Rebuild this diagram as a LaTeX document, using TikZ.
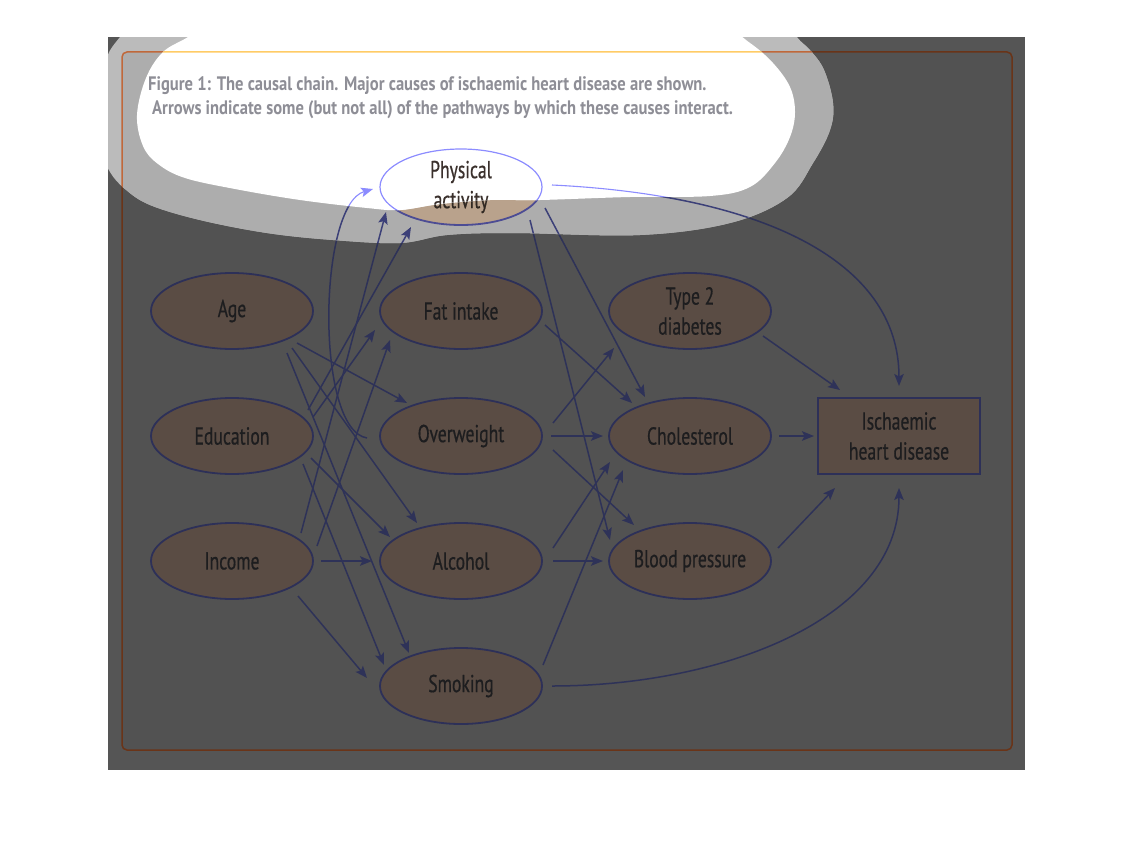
\documentclass[tikz,border=0pt]{standalone}
\usepackage{fontspec}
\setmainfont{PT Sans}[FakeStretch=0.72]
\newfontfamily\nodefam{PT Sans}[FakeStretch=0.72,FakeBold=0.6]
\newfontfamily\captfam{PT Sans}[FakeStretch=0.85]
\usetikzlibrary{arrows.meta,calc,shapes.geometric}

\definecolor{outbg}{HTML}{555555}
\definecolor{inbg}{HTML}{525252}
\definecolor{halout}{HTML}{BBBBBB}
\definecolor{haloin}{HTML}{ADADAD}
\definecolor{dkfill}{HTML}{5A4C44}
\definecolor{dkline}{HTML}{2D3058}
\definecolor{dkarr}{HTML}{2E3258}
\definecolor{dktext}{HTML}{1D1D1F}
\definecolor{dkframe}{HTML}{6A3418}
\definecolor{hafill}{HTML}{B9A28C}
\definecolor{haline}{HTML}{4C4C94}
\definecolor{haarr}{HTML}{3C4078}
\definecolor{hatext}{HTML}{302822}
\definecolor{haframe}{HTML}{C0683A}
\definecolor{whline}{HTML}{8C8CFF}
\definecolor{whtext}{HTML}{3A302C}
\definecolor{whframe}{HTML}{FFCC66}
\definecolor{captcol}{HTML}{8E8E96}

\newcommand\nodefont{\nodefam\fontsize{24.5}{30}\selectfont}

\tikzset{
  ndbase/.style={ellipse, line width=1.8pt, minimum width=162pt, minimum height=76pt,
    inner sep=0pt, align=center, font=\nodefont},
  bxbase/.style={rectangle, line width=1.8pt, minimum width=162pt, minimum height=76pt,
    inner sep=0pt, align=center, font=\nodefont},
  arrbase/.style={line width=1.5pt, -{Stealth[length=12pt,width=9.5pt,inset=2.5pt]}},
  captfont/.style={font=\captfam\fontsize{19.5}{24}\selectfont\bfseries, text=captcol, anchor=west, inner sep=0pt}
}

\newcommand\whiteblob{plot[smooth cycle, tension=0.6] coordinates {(215,18) (188,37) (163,52) (146,78) (137,115) (143,146) (158,164) (185,178) (235,189) (300,200) (367,208) (400,210) (440,204) (490,200) (540,200) (630,197) (710,196) (750,187) (775,163) (790,137) (795,112) (790,87) (773,63) (750,43) (723,28) (650,16) (450,12) (300,12)}}
\newcommand\haloblob{plot[smooth cycle, tension=0.6] coordinates {(150,5) (120,37) (106,60) (100,100) (102,150) (110,172) (125,189) (150,205) (200,220) (267,233) (333,240) (400,243) (447,235) (513,233) (640,235) (730,223) (787,198) (813,163) (830,130) (833,103) (824,70) (810,50) (797,37) (780,10) (500,0)}}

\newcommand\mydiagram{%
  \draw[frm, rounded corners=5pt] (122,52) rectangle (1012,750);
  \node[ndbase, ndcol] (pa)  at (461,187) {Physical\\activity};
  \node[ndbase, ndcol] (age) at (232,311) {Age};
  \node[ndbase, ndcol] (edu) at (232,436) {Education};
  \node[ndbase, ndcol] (inc) at (232,561) {Income};
  \node[ndbase, ndcol] (fat) at (461,311) {Fat intake};
  \node[ndbase, ndcol] (ovw) at (461,436) {Overweight};
  \node[ndbase, ndcol] (alc) at (461,561) {Alcohol};
  \node[ndbase, ndcol] (smk) at (461,686) {Smoking};
  \node[ndbase, ndcol] (t2d) at (690,311) {Type 2\\diabetes};
  \node[ndbase, ndcol] (cho) at (690,436) {Cholesterol};
  \node[ndbase, ndcol] (bp)  at (690,561) {Blood pressure};
  \node[bxbase, ndcol] (ihd) at (899,436) {Ischaemic\\heart disease};
  % first column
  \draw[arr] ($(age)+(65,32)$) -- ($(ovw)+(-54,-33)$);
  \draw[arr] ($(age)+(60,37)$) -- ($(alc)+(-44,-38)$);
  \draw[arr] ($(age)+(55,42)$) -- ($(smk)+(-52,-33)$);
  \draw[arr] ($(edu)+(76,-26)$) -- ($(pa)+(-50,40)$);
  \draw[arr] ($(edu)+(81,-19)$) -- ($(fat)+(-86,19)$);
  \draw[arr] ($(edu)+(79,22)$) -- ($(alc)+(-71,-24)$);
  \draw[arr] ($(edu)+(71,28)$) -- ($(smk)+(-77,-21)$);
  \draw[arr] ($(inc)+(69,-28)$) -- ($(pa)+(-75,25)$);
  \draw[arr] ($(inc)+(85,-15)$) -- ($(fat)+(-71,29)$);
  \draw[arr] ($(inc)+(89,0)$) -- ($(alc)+(-89,0)$);
  \draw[arr] ($(inc)+(66,35)$) -- ($(smk)+(-94,-8)$);
  \draw[arr] ($(ovw)+(-94,2)$) .. controls (315,430) and (318,205) .. ($(pa)+(-88,2)$);
  % second column
  \draw[arr] ($(fat)+(84,14)$) -- ($(cho)+(-58,-33)$);
  \draw[arr] ($(pa)+(84,21)$) -- ($(cho)+(-45,-39)$);
  \draw[arr] ($(pa)+(69,33)$) -- ($(bp)+(-80,-21)$);
  \draw[arr] ($(ovw)+(92,-13)$) -- ($(t2d)+(-76,37)$);
  \draw[arr] ($(ovw)+(90,0)$) -- ($(cho)+(-87,0)$);
  \draw[arr] ($(ovw)+(92,14)$) -- ($(bp)+(-56,-36)$);
  \draw[arr] ($(alc)+(92,-13)$) -- ($(cho)+(-80,26)$);
  \draw[arr] ($(alc)+(92,0)$) -- ($(bp)+(-87,0)$);
  \draw[arr] ($(smk)+(82,-21)$) -- ($(cho)+(-67,34)$);
  % third column
  \draw[arr] ($(t2d)+(73,25)$) -- ($(ihd)+(-59,-46)$);
  \draw[arr] ($(cho)+(89,0)$) -- ($(ihd)+(-85,0)$);
  \draw[arr] ($(bp)+(88,-13)$) -- ($(ihd)+(-64,52)$);
  \draw[arr] ($(pa)+(91,-2)$) .. controls (760,195) and (899,260) .. ($(ihd)+(0,-50)$);
  \draw[arr] ($(smk)+(91,0)$) .. controls (720,686) and (899,620) .. ($(ihd)+(0,52)$);
}

\begin{document}
\begin{tikzpicture}[x=1pt,y=-1pt]
\useasboundingbox (0,0) rectangle (1134,864);
\fill[white] (0,0) rectangle (1134,864);
% dark layer
\begin{scope}
  \tikzset{ndcol/.style={fill=dkfill, draw=dkline, text=dktext},
           arr/.style={arrbase, draw=dkarr},
           frm/.style={draw=dkframe, line width=1.5pt}}
  \fill[outbg] (108,37) rectangle (1025,770);
  \fill[inbg, rounded corners=5pt] (122,52) rectangle (1012,750);
  \mydiagram
\end{scope}
% halo layer
\begin{scope}
  \clip (108,37) rectangle (1025,770);
  \clip \haloblob;
  \tikzset{ndcol/.style={fill=hafill, draw=haline, text=hatext},
           arr/.style={arrbase, draw=haarr},
           frm/.style={draw=haframe, line width=1.5pt}}
  \fill[halout] (108,37) rectangle (1025,770);
  \fill[haloin, rounded corners=5pt] (122,52) rectangle (1012,750);
  \mydiagram
\end{scope}
% white layer
\begin{scope}
  \clip \whiteblob;
  \tikzset{ndcol/.style={fill=white, draw=whline, line width=1.2pt, text=whtext},
           arr/.style={arrbase, line width=1.1pt, draw=whline},
           frm/.style={draw=whframe, line width=1.5pt}}
  \fill[white] (0,0) rectangle (1134,300);
  \mydiagram
\end{scope}
\node[captfont] (cap1) at (148,86) {Figure 1: The causal chain. Major causes of ischaemic heart disease are shown.};
\node[captfont] (cap2) at (152,110) {Arrows indicate some (but not all) of the pathways by which these causes interact.};
\end{tikzpicture}
\end{document}
